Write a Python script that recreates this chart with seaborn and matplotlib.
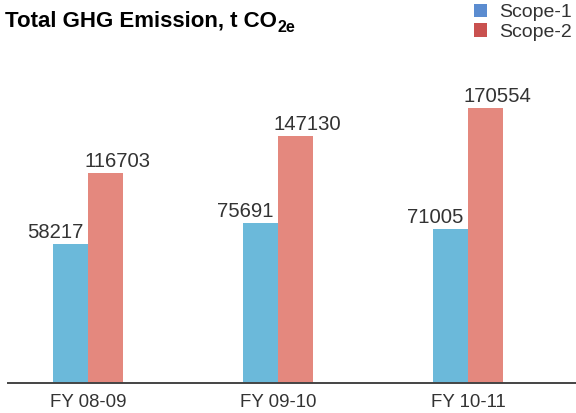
import numpy as np
import pandas as pd
import matplotlib
matplotlib.use("Agg")
import matplotlib.pyplot as plt
from matplotlib.patches import Patch
import seaborn as sns

# data
years = ["FY 08-09", "FY 09-10", "FY 10-11"]
scope_1 = [58217, 75691, 71005]
scope_2 = [116703, 147130, 170554]
series = ["Scope-1", "Scope-2"]

bar_colors = ["#6bb9da", "#e4887e"]
legend_colors = ["#5b8cd0", "#c9514f"]
text_color = "#333333"

# long table for seaborn
df = pd.DataFrame({
    "year": years * 2,
    "scope": [series[0]] * 3 + [series[1]] * 3,
    "value": scope_1 + scope_2,
})

sns.set_style("white")
plt.rcParams["font.family"] = ["Liberation Sans", "DejaVu Sans"]

W, H = 576, 413
fig = plt.figure(figsize=(W / 100, H / 100), dpi=100)
# axes box in pixel terms: x 8..576, y 60..383 (from top)
ax = fig.add_axes([8 / W, (H - 383) / H, (W - 8) / W, (383 - 60) / H])

sns.barplot(data=df, x="year", y="value", hue="scope", palette=bar_colors,
            width=0.37, gap=0, saturation=1, linewidth=0, ax=ax, legend=False)

# value axis does not start at zero in the original
y0, y1 = -56600, 210200
ax.set_ylim(y0, y1)
ax.set_xlim(-0.421, 2.568)
for p in ax.patches:
    top = p.get_y() + p.get_height()
    p.set_y(y0)
    p.set_height(top - y0)

# value labels
offsets = [-15, 12]
for cont, dx in zip(ax.containers, offsets):
    for bar in cont:
        top = bar.get_y() + bar.get_height()
        ax.annotate(f"{int(round(top))}", (bar.get_x() + bar.get_width() / 2, top),
                    xytext=(dx, 6), textcoords="offset pixels",
                    ha="center", va="baseline", fontsize=14.6, color=text_color)

for s in ["top", "right", "left"]:
    ax.spines[s].set_visible(False)
ax.spines["bottom"].set_color("#444444")
ax.spines["bottom"].set_linewidth(1.4)
ax.set_yticks([])
ax.set_xlabel("")
ax.set_ylabel("")
ax.tick_params(axis="x", length=0, pad=8, labelsize=13.4, labelcolor=text_color)

# title with subscript
r = fig.canvas.get_renderer()
t = fig.text(5 / W, 1 - 26 / H, "Total GHG Emission, t CO", fontsize=16,
             fontweight="bold", color="black", va="baseline", ha="left")
bb = t.get_window_extent(r)
fig.text(bb.x1 / W + 0.5 / W, 1 - 32 / H, "2e", fontsize=11.5,
         fontweight="bold", color="black", va="baseline", ha="left")

handles = [Patch(facecolor=c, edgecolor="none") for c in legend_colors]
fig.legend(handles, series, loc="upper left", bbox_to_anchor=(474 / W, 1 - 4 / H),
           frameon=False, fontsize=14, handlelength=0.68, handleheight=0.68,
           handletextpad=0.6, labelspacing=0.1, borderpad=0, borderaxespad=0,
           labelcolor=text_color)

fig.savefig("out.png", dpi=100)
